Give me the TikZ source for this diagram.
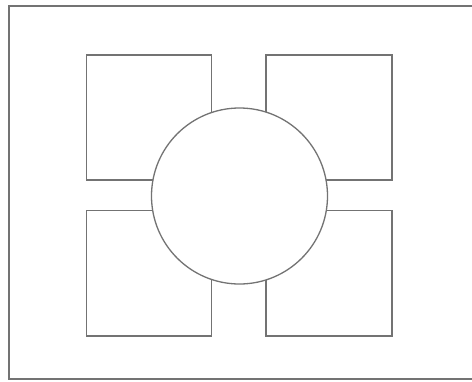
\documentclass[tikz,border=0pt]{standalone}
\begin{document}
\begin{tikzpicture}[x=1pt,y=-1pt,
  shape line/.style={draw=black!55,line width=1.3pt},
  boxshape/.style={shape line,fill=white}]
\useasboundingbox (0,0) rectangle (472,381);
\clip (0,0) rectangle (472,381);
\draw[shape line] (9,6) rectangle (480,379);
\draw[boxshape] (86.5,55) rectangle (211.5,180) coordinate (tl);
\draw[boxshape] (266,55) rectangle (392,180) coordinate (tr);
\draw[boxshape] (86.5,210.5) rectangle (211.5,336) coordinate (bl);
\draw[boxshape] (266,210.5) rectangle (392,336) coordinate (br);
\node[boxshape,circle,minimum size=176pt,inner sep=0pt] (c) at (239.5,196) {};
\end{tikzpicture}
\end{document}
